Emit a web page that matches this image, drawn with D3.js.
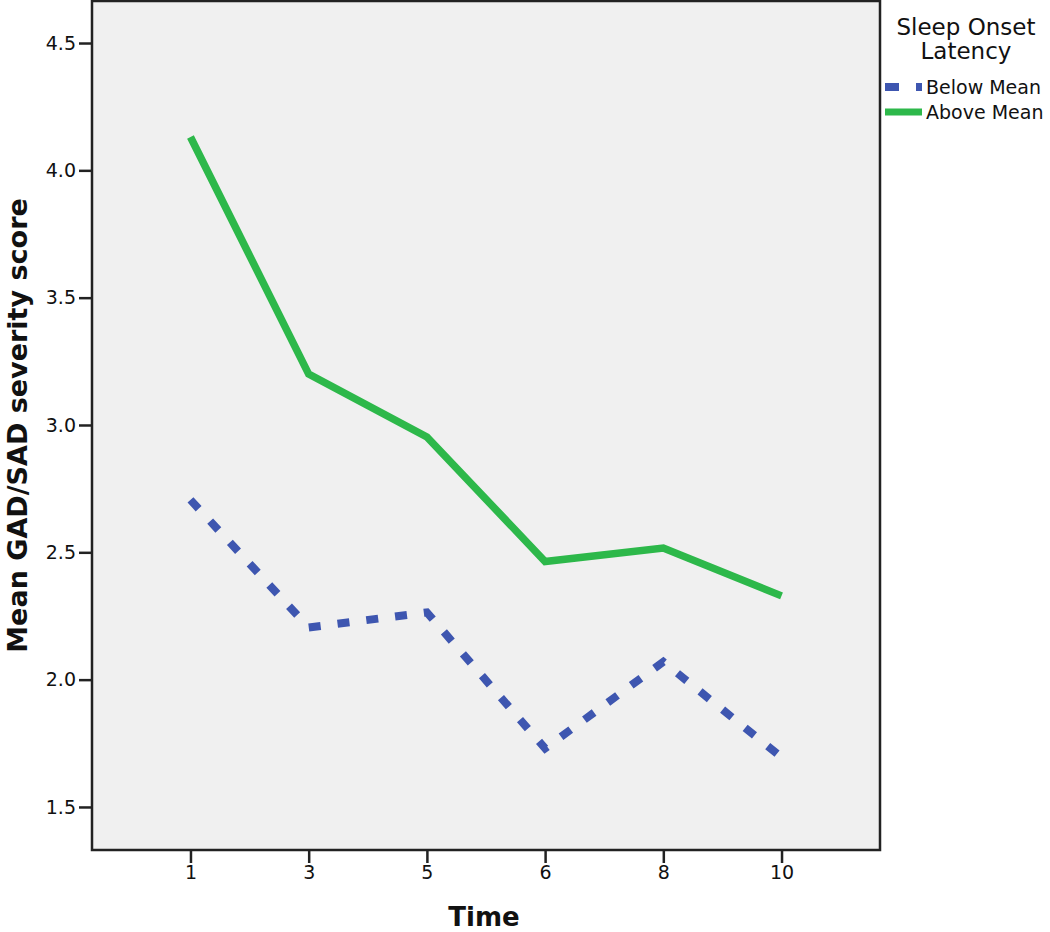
<!DOCTYPE html>
<html>
<head>
<meta charset="utf-8">
<script src="https://cdn.jsdelivr.net/npm/d3@7"></script>
<style>
  body { margin: 0; background: #fff; }
  text { font-family: "DejaVu Sans", sans-serif; }
</style>
</head>
<body>
<svg id="chart"></svg>
<script>
var width = 1050,
    height = 932;

// data
var times = ["1", "3", "5", "6", "8", "10"];
var belowMean = [2.706, 2.205, 2.264, 1.730, 2.070, 1.695];
var aboveMean = [4.131, 3.200, 2.953, 2.464, 2.517, 2.329];
var yTicks = [1.5, 2.0, 2.5, 3.0, 3.5, 4.0, 4.5];

// plot frame
var plotLeft = 92, plotRight = 880, plotTop = 1, plotBottom = 850;

var svg = d3.select("#chart")
    .attr("width", width)
    .attr("height", height);

var x = d3.scalePoint()
    .domain(times)
    .range([plotLeft, plotRight])
    .padding(0.833);

var y = d3.scaleLinear()
    .domain([1.331, 4.665])
    .range([plotBottom, plotTop]);

// plot background
svg.append("rect")
    .attr("x", plotLeft)
    .attr("y", plotTop)
    .attr("width", plotRight - plotLeft)
    .attr("height", plotBottom - plotTop)
    .attr("fill", "#f0f0f0")
    .attr("stroke", "#222")
    .attr("stroke-width", 2.5);

// axes
var yAxis = svg.append("g")
    .attr("transform", "translate(" + plotLeft + ",0)")
    .call(d3.axisLeft(y).tickValues(yTicks).tickFormat(d3.format(".1f")).tickSize(13).tickPadding(3));

var xAxis = svg.append("g")
    .attr("transform", "translate(0," + plotBottom + ")")
    .call(d3.axisBottom(x).tickSize(13).tickPadding(3));

[yAxis, xAxis].forEach(function(g) {
  g.select(".domain").remove();
  g.selectAll(".tick line").attr("stroke", "#222").attr("stroke-width", 2.5);
  g.selectAll(".tick text")
    .attr("fill", "#111")
    .style("font-size", "19px");
});

// lines
var line = d3.line()
    .x(function(d, i) { return x(times[i]); })
    .y(function(d) { return y(d); });

svg.append("path")
    .datum(aboveMean)
    .attr("d", line)
    .attr("fill", "none")
    .attr("stroke", "#2db84a")
    .attr("stroke-width", 7.5);

svg.append("path")
    .datum(belowMean)
    .attr("d", line)
    .attr("fill", "none")
    .attr("stroke", "#3e56b0")
    .attr("stroke-width", 8)
    .attr("stroke-dasharray", "12,17");

// axis titles
svg.append("text")
    .attr("transform", "translate(27," + ((plotTop + plotBottom) / 2) + ") rotate(-90)")
    .attr("text-anchor", "middle")
    .style("font-size", "27px")
    .style("font-weight", "bold")
    .attr("fill", "#111")
    .text("Mean GAD/SAD severity score");

svg.append("text")
    .attr("x", 484)
    .attr("y", 926)
    .attr("text-anchor", "middle")
    .style("font-size", "26px")
    .style("font-weight", "bold")
    .attr("fill", "#111")
    .text("Time");

// legend
var legend = svg.append("g");
legend.append("text")
    .attr("x", 966).attr("y", 35)
    .attr("text-anchor", "middle")
    .style("font-size", "23px")
    .attr("fill", "#111")
    .text("Sleep Onset");
legend.append("text")
    .attr("x", 966).attr("y", 59)
    .attr("text-anchor", "middle")
    .style("font-size", "23px")
    .attr("fill", "#111")
    .text("Latency");

var items = [
  {label: "Below Mean", color: "#3e56b0", dash: "14,17", w: 8},
  {label: "Above Mean", color: "#2db84a", dash: null, w: 7}
];
items.forEach(function(it, i) {
  var ly = 87 + i * 25;
  legend.append("line")
      .attr("x1", 885).attr("x2", 922)
      .attr("y1", ly).attr("y2", ly)
      .attr("stroke", it.color)
      .attr("stroke-width", it.w)
      .attr("stroke-dasharray", it.dash);
  legend.append("text")
      .attr("x", 926).attr("y", ly + 7)
      .style("font-size", "19px")
      .attr("fill", "#111")
      .text(it.label);
});
</script>
</body>
</html>
